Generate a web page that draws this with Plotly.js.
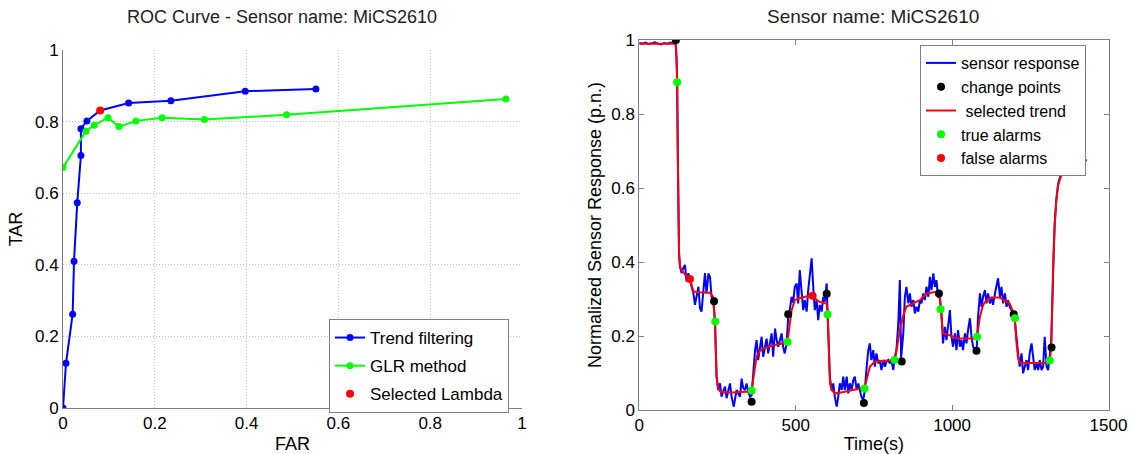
<!DOCTYPE html>
<html>
<head>
<meta charset="utf-8">
<script src="https://cdn.plot.ly/plotly-3.0.1.min.js"></script>
<style>html,body{margin:0;padding:0;background:#fff;}#chart{width:1135px;height:454px;}</style>
</head>
<body>
<div id="chart"></div>
<script>
// ROC curve data
const rocFarTrend = [0, 0.0065, 0.021, 0.024, 0.031, 0.039, 0.039, 0.052, 0.081, 0.143, 0.235, 0.397, 0.551];
const rocTarTrend = [0, 0.125, 0.262, 0.41, 0.573, 0.705, 0.78, 0.802, 0.831, 0.852, 0.858, 0.885, 0.891];
const rocFarGlr = [0, 0.05, 0.068, 0.098, 0.122, 0.159, 0.216, 0.308, 0.487, 0.965];
const rocTarGlr = [0.672, 0.773, 0.79, 0.811, 0.786, 0.802, 0.811, 0.806, 0.819, 0.863];
const selectedFar = [0.081];
const selectedTar = [0.831];

// Sensor response data
const sensorTime = [0,10,20,30,40,50,60,70,80,90,100,110,116,119,121,123,125,127,130,
 135,141,146,151,157,162,167,173,178,183,189,194,199,205,210,215,221,226,231,236,242,247,252,258,263,268,274,279,284,290,295,302,311,316,322,327,332,338,343,348,354,359,364,370,375,380,386,391,396,402,407,412,418,423,428,434,439,444,450,455,460,465,471,476,481,487,492,497,
 503,508,513,519,524,529,535,540,545,551,556,561,567,572,577,583,588,593,599,604,609,615,620,625,631,636,641,647,652,657,663,668,673,679,684,689,695,700,705,710,716,721,726,732,737,742,748,753,758,764,769,774,780,785,790,796,801,806,812,817,822,828,833,
 837,844,849,854,860,865,870,876,881,886,892,897,902,908,913,918,924,929,934,940,945,950,955,961,966,971,977,982,987,993,998,1003,1009,1014,1019,1025,1030,1035,1041,1046,1051,1057,1062,1067,1073,1078,1083,1089,1094,1099,1105,1110,1115,1121,1126,1131,1137,1142,1147,1153,1158,1163,1169,1174,1179,
 1184,1190,1195,1200,1206,1211,1216,1222,1227,1232,1238,1243,1248,1254,1259,1264,1270,1275,1280,1286,1291,1296,1302,1307,1312,1317,1323,1328,1333,1339,1349,1365,1381,1405,1430];
const sensorValue = [0.992,0.990,0.993,0.989,0.991,0.994,0.990,0.988,0.992,0.990,0.993,0.991,0.990,0.95,0.89,0.70,0.50,0.42,0.39,
 0.37,0.385,0.392,0.347,0.37,0.35,0.33,0.315,0.284,0.31,0.333,0.275,0.266,0.324,0.37,0.315,0.369,0.36,0.306,0.297,0.239,0.09,0.054,0.072,0.036,0.05,0.063,0.032,0.05,0.072,0.036,0.009,0.054,0.045,0.036,0.085,0.06,0.054,0.072,0.05,0.036,0.04,0.1,0.162,0.189,0.135,0.17,0.198,0.144,0.175,0.193,0.153,0.18,0.207,0.144,0.22,0.19,0.171,0.19,0.207,0.17,0.153,0.18,0.252,0.27,0.306,0.29,0.333,
 0.342,0.288,0.378,0.324,0.27,0.297,0.266,0.324,0.36,0.41,0.333,0.27,0.297,0.243,0.284,0.266,0.306,0.293,0.342,0.207,0.09,0.054,0.072,0.036,0.009,0.036,0.072,0.054,0.09,0.054,0.09,0.045,0.072,0.054,0.081,0.09,0.054,0.072,0.05,0.036,0.027,0.054,0.108,0.162,0.18,0.135,0.162,0.117,0.153,0.126,0.135,0.108,0.135,0.117,0.13,0.135,0.126,0.135,0.108,0.144,0.162,0.234,0.351,
 0.14,0.207,0.306,0.333,0.288,0.315,0.279,0.297,0.261,0.279,0.266,0.297,0.288,0.315,0.297,0.333,0.306,0.36,0.324,0.369,0.333,0.351,0.306,0.306,0.261,0.18,0.225,0.189,0.234,0.27,0.198,0.171,0.207,0.162,0.216,0.171,0.189,0.162,0.207,0.18,0.216,0.248,0.198,0.171,0.162,0.153,0.252,0.315,0.279,0.306,0.324,0.288,0.315,0.288,0.306,0.284,0.315,0.333,0.356,0.306,0.333,0.288,0.315,0.279,0.297,
 0.279,0.27,0.261,0.248,0.189,0.153,0.117,0.153,0.099,0.117,0.135,0.108,0.153,0.18,0.135,0.108,0.126,0.108,0.135,0.108,0.117,0.198,0.117,0.108,0.144,0.189,0.369,0.504,0.567,0.612,0.639,0.657,0.666,0.672,0.675];

const trendTime = [0,117,119,121,123,125,127,130,140,150,162,168,173,190,226,236,242,247,252,258,270,300,330,354,359,363,368,375,386,400,430,460,471,476,481,487,497,510,530,554,568,575,590,599,602,605,610,615,625,650,690,710,720,726,737,753,780,817,822,828,833,844,854,875,897,918,940,955,959,963,967,971,993,1014,1078,1080,1084,1089,1099,1110,1131,1152,1174,1184,1195,1200,1205,1211,1216,1240,1290,1312,1317,1320,1324,1328,1333,1339,1349,1365,1381,1405,1430];
const trendValue = [0.99,0.99,0.95,0.886,0.70,0.50,0.43,0.385,0.372,0.362,0.353,0.335,0.32,0.318,0.317,0.306,0.239,0.09,0.06,0.05,0.047,0.047,0.048,0.05,0.053,0.075,0.115,0.145,0.16,0.168,0.175,0.18,0.182,0.2,0.235,0.27,0.297,0.302,0.306,0.309,0.297,0.293,0.289,0.288,0.258,0.16,0.07,0.054,0.045,0.048,0.055,0.059,0.061,0.08,0.117,0.131,0.133,0.135,0.16,0.19,0.216,0.255,0.279,0.288,0.297,0.315,0.319,0.32,0.315,0.272,0.23,0.207,0.202,0.193,0.193,0.198,0.225,0.252,0.284,0.297,0.304,0.304,0.293,0.288,0.265,0.25,0.19,0.14,0.128,0.127,0.127,0.13,0.171,0.3,0.42,0.5,0.565,0.607,0.635,0.655,0.665,0.671,0.675];

const changeTime = [117, 239, 359, 476, 599, 718, 839, 958, 1078, 1197, 1318];
const changeValue = [1.0, 0.294, 0.022, 0.259, 0.314, 0.019, 0.131, 0.315, 0.160, 0.259, 0.169];
const trueTime = [121, 243, 359, 474, 602, 720, 816, 963, 1080, 1201, 1312];
const trueValue = [0.886, 0.239, 0.053, 0.184, 0.258, 0.058, 0.135, 0.272, 0.198, 0.248, 0.134];
const falseTime = [162, 554];
const falseValue = [0.354, 0.309];

const W = 1135, H = 454;
const FONT = 'Liberation Sans, Arial, sans-serif';
const BLUE = '#0000ff', GREEN = '#00ff00', RED = '#ff0000', BLACK = '#000000';

const traces = [
  {x: rocFarTrend, y: rocTarTrend, type: 'scatter', mode: 'lines+markers', name: 'Trend filtering',
   line: {color: BLUE, width: 2}, marker: {color: BLUE, size: 7}, xaxis: 'x', yaxis: 'y', legend: 'legend', legendgroup: 'a'},
  {x: rocFarGlr, y: rocTarGlr, type: 'scatter', mode: 'lines+markers', name: 'GLR method',
   line: {color: GREEN, width: 2}, marker: {color: GREEN, size: 7}, xaxis: 'x', yaxis: 'y', legend: 'legend', legendgroup: 'b'},
  {x: selectedFar, y: selectedTar, type: 'scatter', mode: 'markers', name: 'Selected Lambda',
   marker: {color: RED, size: 8}, xaxis: 'x', yaxis: 'y', legend: 'legend', legendgroup: 'c'},

  {x: sensorTime, y: sensorValue, type: 'scatter', mode: 'lines', name: 'sensor response',
   line: {color: BLUE, width: 2}, xaxis: 'x2', yaxis: 'y2', legend: 'legend2', legendrank: 1},
  {x: trendTime, y: trendValue, type: 'scatter', mode: 'lines', name: ' selected trend',
   line: {color: RED, width: 2}, xaxis: 'x2', yaxis: 'y2', legend: 'legend2', legendrank: 3},
  {x: changeTime, y: changeValue, type: 'scatter', mode: 'markers', name: 'change points',
   marker: {color: BLACK, size: 8}, xaxis: 'x2', yaxis: 'y2', legend: 'legend2', legendrank: 2},
  {x: trueTime, y: trueValue, type: 'scatter', mode: 'markers', name: 'true alarms',
   marker: {color: GREEN, size: 8}, xaxis: 'x2', yaxis: 'y2', legend: 'legend2', legendrank: 4},
  {x: falseTime, y: falseValue, type: 'scatter', mode: 'markers', name: 'false alarms',
   marker: {color: RED, size: 8}, xaxis: 'x2', yaxis: 'y2', legend: 'legend2', legendrank: 5}
];

const tickFont = {family: FONT, size: 17, color: '#000'};
const tickFont2 = {family: FONT, size: 17, color: '#000'};
const titleFont = {family: FONT, size: 18, color: '#000'};
const titleFont2 = {family: FONT, size: 18, color: '#000'};

const layout = {
  width: W, height: H,
  margin: {l: 0, r: 0, t: 0, b: 0},
  paper_bgcolor: '#fff', plot_bgcolor: '#fff',
  font: {family: FONT, size: 16, color: '#000'},
  showlegend: true,
  xaxis: {
    domain: [63 / W, 522 / W], range: [0, 1], anchor: 'y',
    tickvals: [0, 0.2, 0.4, 0.6, 0.8, 1], ticktext: ['0', '0.2', '0.4', '0.6', '0.8', '1'],
    showgrid: true, gridcolor: '#bdbdbd', griddash: '1px,2px', gridwidth: 1,
    showline: true, linecolor: '#808080', linewidth: 1, mirror: false,
    zeroline: false, ticks: '', tickfont: tickFont,
    title: {text: 'FAR', font: titleFont, standoff: 4}, automargin: false
  },
  yaxis: {
    domain: [(H - 408) / H, (H - 50) / H], range: [0, 1], anchor: 'x',
    tickvals: [0, 0.2, 0.4, 0.6, 0.8, 1], ticktext: ['0', '0.2', '0.4', '0.6', '0.8', '1'],
    showgrid: true, gridcolor: '#bdbdbd', griddash: '1px,2px', gridwidth: 1,
    showline: true, linecolor: '#808080', linewidth: 1, mirror: false,
    zeroline: false, ticks: '', tickfont: tickFont,
    title: {text: 'TAR', font: titleFont, standoff: 7}, automargin: false
  },
  xaxis2: {
    domain: [639.3 / W, 1108.5 / W], range: [0, 1500], anchor: 'y2',
    tickvals: [0, 500, 1000, 1500], ticktext: ['0', '500', '1000', '1500'],
    showgrid: false, showline: true, linecolor: '#808080', linewidth: 1, mirror: 'ticks',
    zeroline: false, ticks: 'inside', ticklen: 5, tickcolor: '#808080', tickfont: tickFont2,
    title: {text: 'Time(s)', font: titleFont2, standoff: 2}, automargin: false
  },
  yaxis2: {
    domain: [(H - 410) / H, (H - 40) / H], range: [0, 1], anchor: 'x2',
    tickvals: [0, 0.2, 0.4, 0.6, 0.8, 1], ticktext: ['0', '0.2', '0.4', '0.6', '0.8', '1'],
    showgrid: false, showline: true, linecolor: '#808080', linewidth: 1, mirror: 'ticks',
    zeroline: false, ticks: 'inside', ticklen: 5, tickcolor: '#808080', tickfont: tickFont2,
    title: {text: 'Normalized Sensor Response (p.n.)', font: titleFont2, standoff: 4}, automargin: false
  },
  legend: {
    x: 329 / W, y: 1 - 319 / H, xanchor: 'left', yanchor: 'top',
    bgcolor: '#fff', bordercolor: '#808080', borderwidth: 1,
    font: {family: FONT, size: 17, color: '#000'}, traceorder: 'grouped', tracegroupgap: 3
  },
  legend2: {
    x: 920 / W, y: 1 - 45 / H, xanchor: 'left', yanchor: 'top',
    bgcolor: '#fff', bordercolor: '#808080', borderwidth: 1,
    font: {family: FONT, size: 16, color: '#000'}
  },
  annotations: [
    {text: 'ROC Curve - Sensor name: MiCS2610', x: 282 / W, y: 1 - 17 / H, xref: 'paper', yref: 'paper',
     xanchor: 'center', yanchor: 'middle', showarrow: false, font: {family: FONT, size: 18, color: '#222'}},
    {text: 'Sensor name: MiCS2610', x: 873 / W, y: 1 - 17 / H, xref: 'paper', yref: 'paper',
     xanchor: 'center', yanchor: 'middle', showarrow: false, font: {family: FONT, size: 19, color: '#222'}}
  ]
};

Plotly.newPlot('chart', traces, layout, {displayModeBar: false, staticPlot: true});
</script>
</body>
</html>
